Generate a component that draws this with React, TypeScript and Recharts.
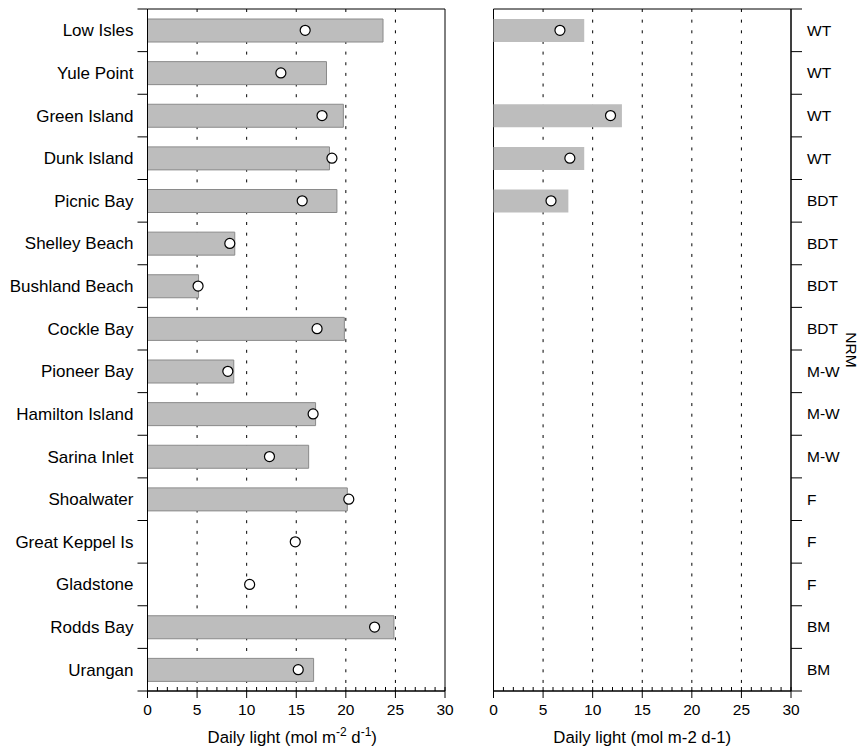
import React from 'react';
import {
  ComposedChart,
  Bar,
  Line,
  XAxis,
  YAxis,
  CartesianGrid,
  ReferenceArea,
  Label,
} from 'recharts';

const sites = [
  'Low Isles', 'Yule Point', 'Green Island', 'Dunk Island', 'Picnic Bay', 'Shelley Beach',
  'Bushland Beach', 'Cockle Bay', 'Pioneer Bay', 'Hamilton Island', 'Sarina Inlet',
  'Shoalwater', 'Great Keppel Is', 'Gladstone', 'Rodds Bay', 'Urangan',
];
const nrm = ['WT', 'WT', 'WT', 'WT', 'BDT', 'BDT', 'BDT', 'BDT', 'M-W', 'M-W', 'M-W', 'F', 'F', 'F', 'BM', 'BM'];

// left panel: bar + open circle
const leftBar = [23.75, 18.05, 19.75, 18.35, 19.1, 8.8, 5.15, 19.85, 8.7, 16.95, 16.25, 20.15, null, null, 24.85, 16.75];
const leftDot = [15.9, 13.45, 17.6, 18.6, 15.6, 8.3, 5.1, 17.1, 8.1, 16.7, 12.3, 20.3, 14.9, 10.3, 22.9, 15.2];

// right panel: only the northern sites
const rightBar = [9.15, null, 12.95, 9.15, 7.55, null, null, null, null, null, null, null, null, null, null, null];
const rightDot = [6.7, null, 11.8, 7.7, 5.8, null, null, null, null, null, null, null, null, null, null, null];

const majorTicks = [0, 5, 10, 15, 20, 25, 30];
const allTicks = Array.from({ length: 31 }, (_, i) => i);
const gridValues = [5, 10, 15, 20, 25];

const FONT = '"Liberation Sans", Arial, Helvetica, sans-serif';
const TOP = 9;
const PLOT_H = 682;
const BAND = PLOT_H / sites.length;

const leftData = sites.map((s, i) => ({ site: s, bar: leftBar[i], dot: leftDot[i] }));
const rightData = sites.map((s, i) => ({ site: s, bar: rightBar[i], dot: rightDot[i] }));

const XTick = ({ x, y, payload }: any) => {
  const v = payload.value;
  const major = majorTicks.includes(v);
  return (
    <g>
      <line x1={x} x2={x} y1={y - 4} y2={major ? y + 7 : y} stroke="#000" strokeWidth={1} />
      {major && (
        <text x={x} y={y + 24} textAnchor="middle" fontSize={15.5} fontFamily={FONT} fill="#000">
          {v}
        </text>
      )}
    </g>
  );
};

const SiteTick = ({ x, y, payload, index }: any) => {
  const half = BAND / 2;
  return (
    <g>
      <line x1={x - 10} x2={x} y1={y - half} y2={y - half} stroke="#000" />
      {index === sites.length - 1 && <line x1={x - 10} x2={x} y1={y + half} y2={y + half} stroke="#000" />}
      <text x={x - 14} y={y} dy="0.35em" textAnchor="end" fontSize={17} fontFamily={FONT} fill="#000">
        {payload.value}
      </text>
    </g>
  );
};

const NrmTick = ({ x, y, index }: any) => {
  const half = BAND / 2;
  return (
    <g>
      <line x1={x} x2={x + 11} y1={y - half} y2={y - half} stroke="#000" />
      {index === sites.length - 1 && <line x1={x} x2={x + 11} y1={y + half} y2={y + half} stroke="#000" />}
      <text x={x + 16} y={y} dy="0.35em" textAnchor="start" fontSize={15.5} fontFamily={FONT} fill="#000">
        {nrm[index]}
      </text>
    </g>
  );
};

const LeftTitle = (props: any) => {
  const vb = props.viewBox;
  const cx = vb.x + vb.width / 2 - 4;
  return (
    <text x={cx} y={vb.y + 52} textAnchor="middle" fontSize={16.75} fontFamily={FONT} fill="#000">
      Daily light (mol m
      <tspan dy={-7} fontSize={12}>-2</tspan>
      <tspan dy={7}> d</tspan>
      <tspan dy={-7} fontSize={12}>-1</tspan>
      <tspan dy={7}>)</tspan>
    </text>
  );
};

const RightTitle = (props: any) => {
  const vb = props.viewBox;
  return (
    <text x={vb.x + vb.width / 2} y={vb.y + 52} textAnchor="middle" fontSize={16.75} fontFamily={FONT} fill="#000">
      Daily light (mol m-2 d-1)
    </text>
  );
};

const NrmTitle = (props: any) => {
  const vb = props.viewBox;
  const x = vb.x + 60;
  const y = vb.y + vb.height / 2;
  return (
    <text x={x} y={y} transform={`rotate(90, ${x}, ${y})`} textAnchor="middle" dy="0.35em" fontSize={15.5} fontFamily={FONT} fill="#000">
      NRM
    </text>
  );
};

const gridGen = ({ offset }: any) => gridValues.map((v) => offset.left + (v / 30) * offset.width);

const dotStyle = { r: 5, fill: '#fff', stroke: '#000', strokeWidth: 1.2 };

export default function App() {
  return (
    <div style={{ position: 'absolute', left: 0, top: 0, width: 864, height: 751, background: '#fff' }}>
      <div style={{ position: 'absolute', left: 0, top: 0 }}>
        <ComposedChart
          width={460}
          height={751}
          data={leftData}
          layout="vertical"
          margin={{ top: TOP, right: 15, bottom: 0, left: 0.5 }}
        >
          <CartesianGrid
            horizontal={false}
            vertical
            verticalCoordinatesGenerator={gridGen}
            stroke="#000"
            strokeDasharray="3 7.65"
          />
          <XAxis
            type="number"
            domain={[0, 30]}
            ticks={allTicks}
            interval={0}
            height={60}
            tickSize={0}
            tickMargin={0}
            tickLine={false}
            axisLine={{ stroke: '#000' }}
            tick={<XTick />}
          >
            <Label content={<LeftTitle />} />
          </XAxis>
          <YAxis
            type="category"
            dataKey="site"
            width={147}
            interval={0}
            tickSize={0}
            tickMargin={0}
            tickLine={false}
            axisLine={{ stroke: '#000' }}
            tick={<SiteTick />}
          />
          <Bar dataKey="bar" barSize={23} fill="#bdbdbd" stroke="#8a8a8a" strokeWidth={1} isAnimationActive={false} />
          <Line dataKey="dot" stroke="none" dot={dotStyle} activeDot={false} isAnimationActive={false} />
          <ReferenceArea x1={0} x2={30} fill="none" stroke="#000" strokeWidth={1} />
        </ComposedChart>
      </div>
      <div style={{ position: 'absolute', left: 460, top: 0 }}>
        <ComposedChart
          width={404}
          height={751}
          data={rightData}
          layout="vertical"
          margin={{ top: TOP, right: 0, bottom: 0, left: 33.5 }}
        >
          <CartesianGrid
            horizontal={false}
            vertical
            verticalCoordinatesGenerator={gridGen}
            stroke="#000"
            strokeDasharray="3 7.65"
          />
          <XAxis
            type="number"
            domain={[0, 30]}
            ticks={allTicks}
            interval={0}
            height={60}
            tickSize={0}
            tickMargin={0}
            tickLine={false}
            axisLine={{ stroke: '#000' }}
            tick={<XTick />}
          >
            <Label content={<RightTitle />} />
          </XAxis>
          <YAxis
            type="category"
            dataKey="site"
            orientation="right"
            width={73}
            interval={0}
            tickSize={0}
            tickMargin={0}
            tickLine={false}
            axisLine={{ stroke: '#000' }}
            tick={<NrmTick />}
          >
            <Label content={<NrmTitle />} />
          </YAxis>
          <Bar dataKey="bar" barSize={23} fill="#bdbdbd" isAnimationActive={false} />
          <Line dataKey="dot" stroke="none" dot={dotStyle} activeDot={false} isAnimationActive={false} />
          <ReferenceArea x1={0} x2={30} fill="none" stroke="#000" strokeWidth={1} />
        </ComposedChart>
      </div>
    </div>
  );
}
